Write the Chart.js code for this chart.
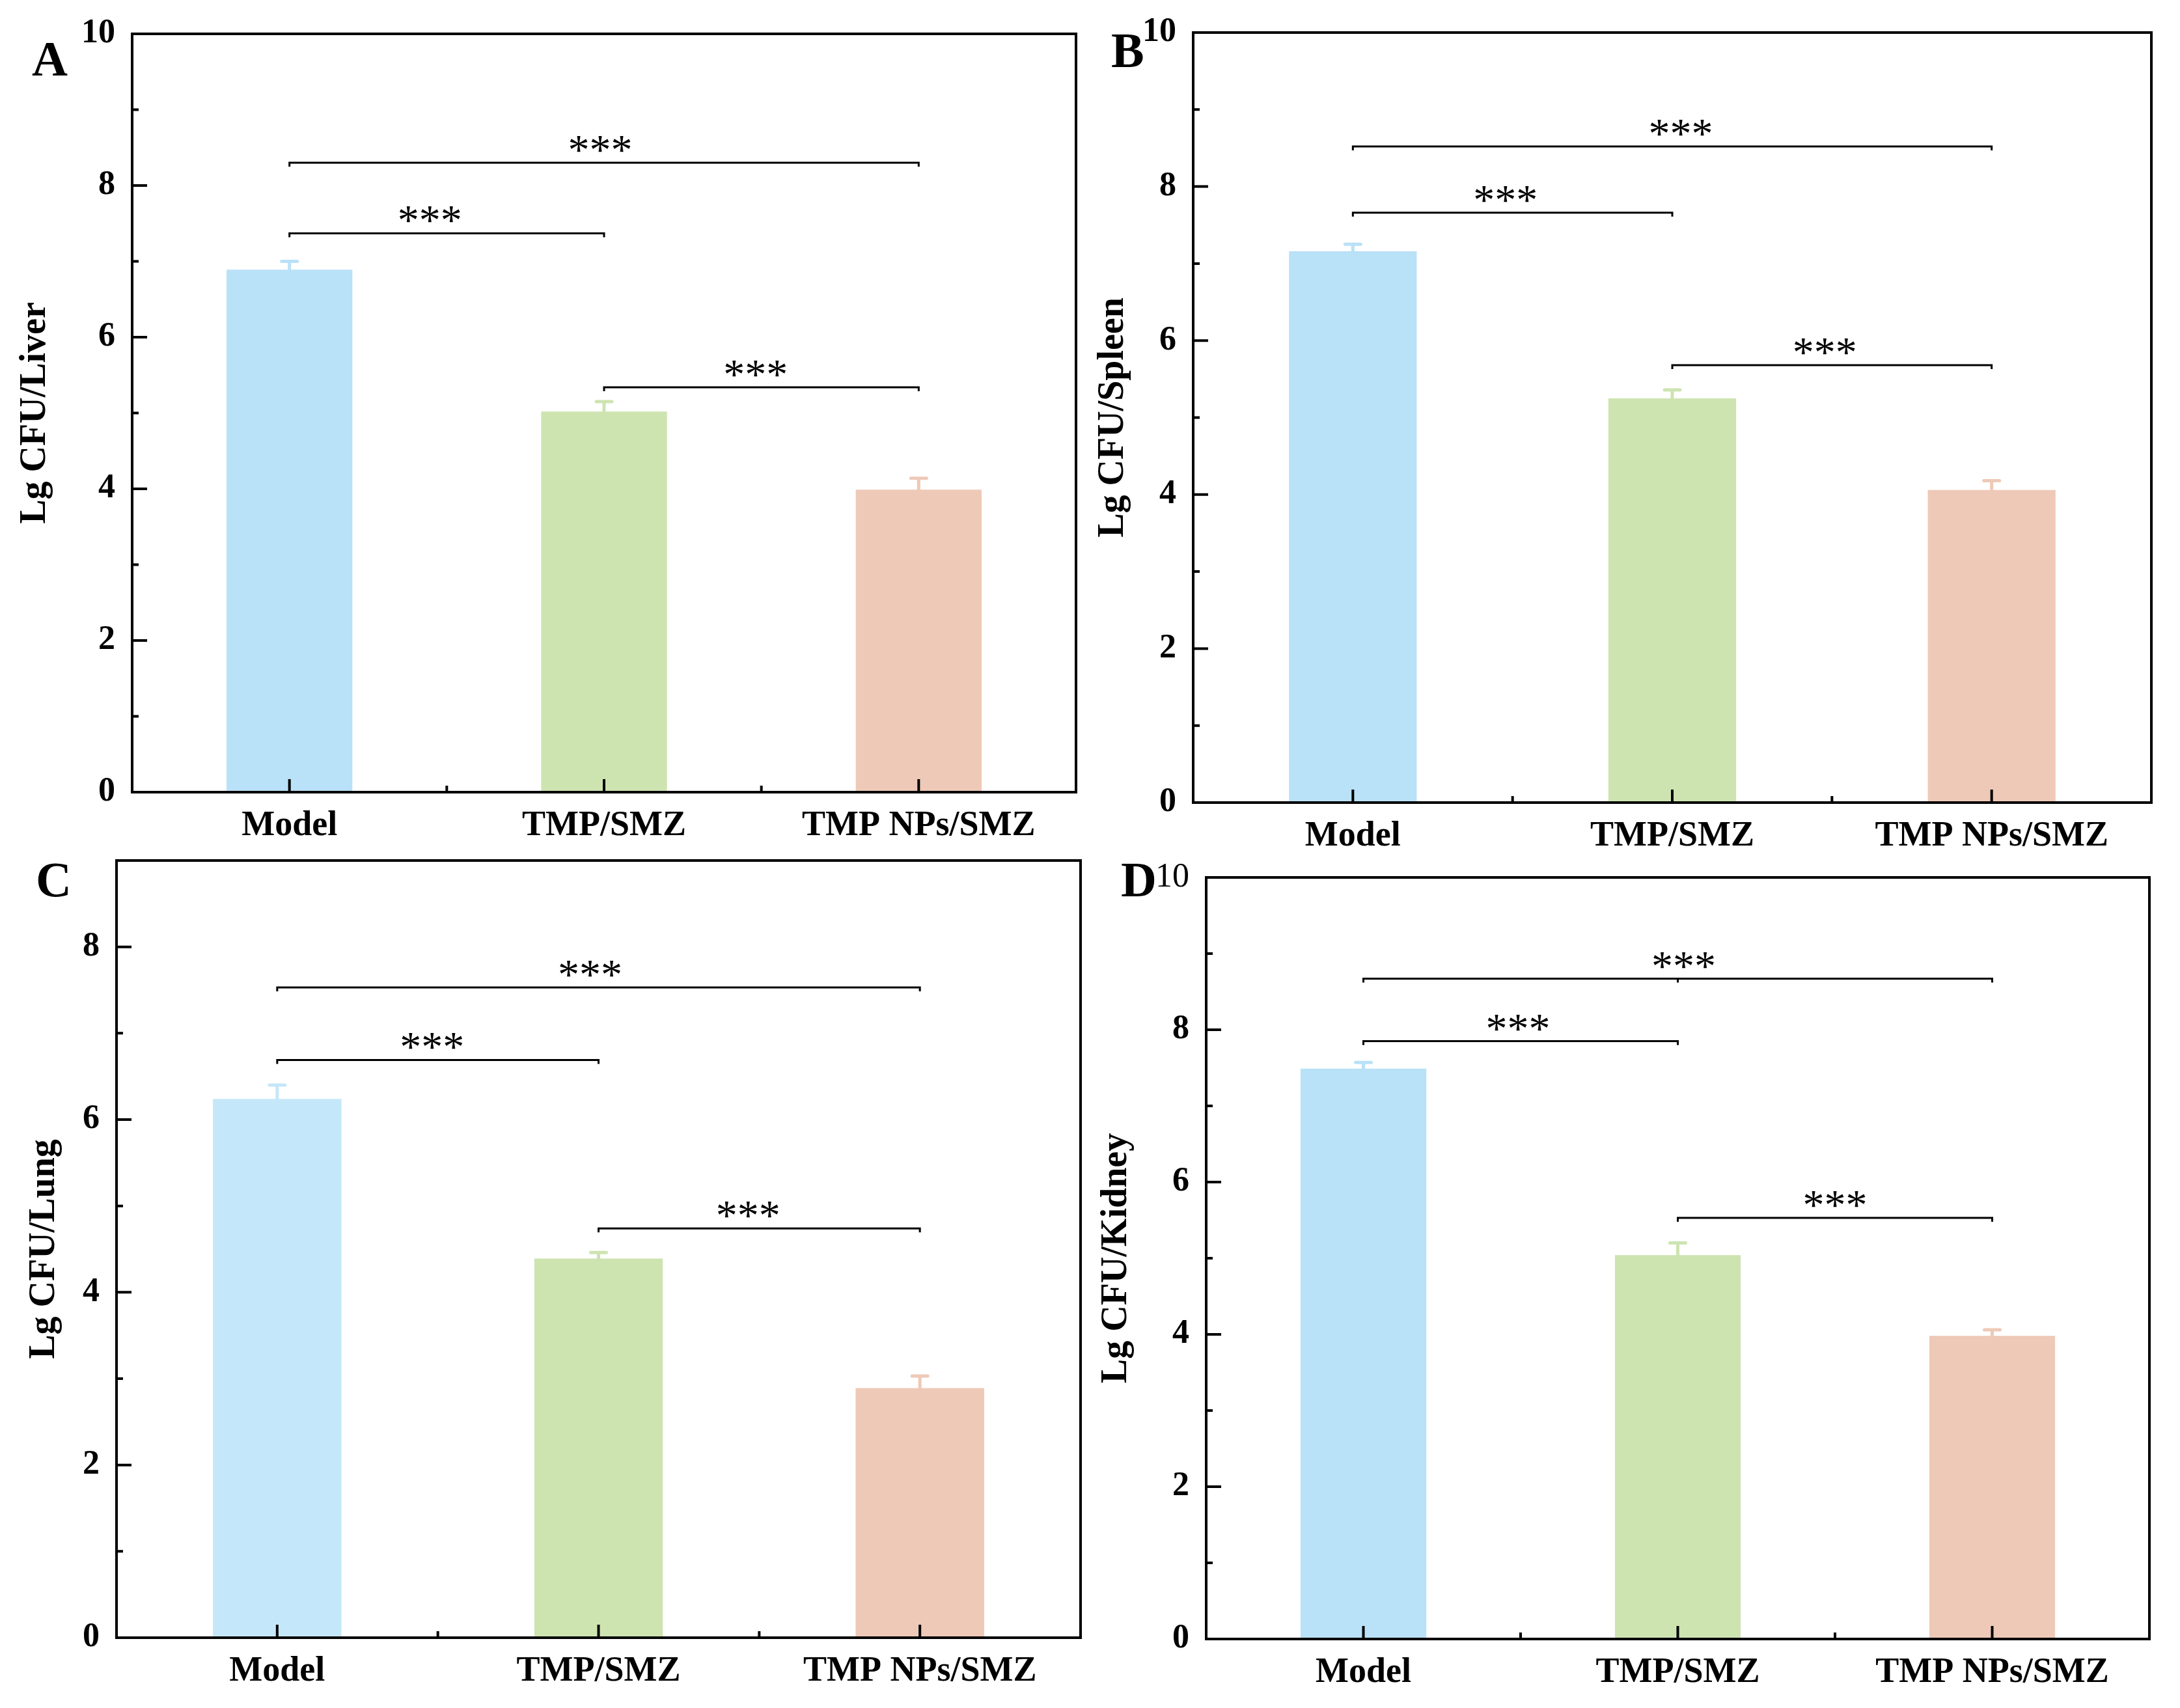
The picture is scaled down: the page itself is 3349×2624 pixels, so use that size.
<!DOCTYPE html>
<html>
<head>
<meta charset="utf-8">
<script src="https://cdn.jsdelivr.net/npm/chart.js@4.4.1/dist/chart.umd.min.js"></script>
<style>
  html, body { margin: 0; padding: 0; background: #fff; }
  body { width: 3349px; height: 2624px; position: relative; overflow: hidden; }
  canvas { position: absolute; }
</style>
</head>
<body>
<canvas id="chartA"></canvas>
<canvas id="chartB"></canvas>
<canvas id="chartC"></canvas>
<canvas id="chartD"></canvas>
<script>
// data
const categories = ['Model', 'TMP/SMZ', 'TMP NPs/SMZ'];

const liverMean = [6.89, 5.02, 3.99];
const liverSd = [0.11, 0.13, 0.15];
const spleenMean = [7.16, 5.25, 4.06];
const spleenSd = [0.09, 0.11, 0.12];
const lungMean = [6.24, 4.39, 2.89];
const lungSd = [0.16, 0.07, 0.14];
const kidneyMean = [7.49, 5.04, 3.98];
const kidneySd = [0.08, 0.16, 0.08];

// significance brackets: which groups, and at what height
const bracketPairs = [[0, 2], [0, 1], [1, 2]];
const liverBracketY = [8.30, 7.37, 5.34];
const spleenBracketY = [8.52, 7.66, 5.68];
const lungBracketY = [7.53, 6.69, 4.74];
const kidneyBracketY = [8.67, 7.85, 5.53];
const stars = '***';

const yTicks10 = [0, 2, 4, 6, 8, 10];
const yTicks9 = [0, 2, 4, 6, 8];

const FONT = '"Times New Roman", "Liberation Serif", serif';
const barColors = ['#B9E1F7', '#CDE4B1', '#EEC9B7'];
const barColorsC = ['#C5E7FA', '#CDE4B1', '#EEC9B7'];

// padTop is what chart.js reserves above the plot for the top tick label
const PAD_TOP = 60;

const panels = [
  { id: 'chartA', letter: 'A', title: 'Lg CFU/Liver', mean: liverMean, sd: liverSd, brackets: liverBracketY,
    ticks: yTicks10, yMax: 10, colors: barColors, starDx: [-6, -26, -9],
    box: { left: 21, top: -8, width: 1644, height: 1325 }, yWidth: 182, letterAt: [-154, 64] },
  { id: 'chartB', letter: 'B', title: 'Lg CFU/Spleen', mean: spleenMean, sd: spleenSd, brackets: spleenBracketY,
    ticks: yTicks10, yMax: 10, colors: barColors, starDx: [13, -11, -11],
    box: { left: 1677, top: -10, width: 1640, height: 1343 }, yWidth: 156, letterAt: [-126, 53] },
  { id: 'chartC', letter: 'C', title: 'Lg CFU/Lung', mean: lungMean, sd: lungSd, brackets: lungBracketY,
    ticks: yTicks9, yMax: 9, colors: barColorsC, starDx: [-13, -9, -17],
    box: { left: 35, top: 1262, width: 1637, height: 1354 }, yWidth: 144, letterAt: [-124, 55] },
  { id: 'chartD', letter: 'D', title: 'Lg CFU/Kidney', mean: kidneyMean, sd: kidneySd, brackets: kidneyBracketY,
    ticks: yTicks10, yMax: 10, colors: barColors, starDx: [9, -4, 0], thinTop: true, midTick: true,
    box: { left: 1682, top: 1288, width: 1632, height: 1330 }, yWidth: 171, letterAt: [-131, 29] }
];

function makeDecor(panel) {
  return {
    id: 'decor',
    afterDatasetsDraw(chart) {
      const { ctx, chartArea: area, scales: { x, y } } = chart;
      ctx.save();
      // error bars (upper half only, same colour as the bar)
      ctx.lineWidth = 5;
      ctx.lineCap = 'round';
      panel.mean.forEach((m, i) => {
        const cx = x.getPixelForValue(i);
        const y0 = y.getPixelForValue(m);
        const y1 = y.getPixelForValue(m + panel.sd[i]);
        ctx.strokeStyle = panel.colors[i];
        ctx.beginPath();
        ctx.moveTo(cx, y0);
        ctx.lineTo(cx, y1);
        ctx.moveTo(cx - 12, y1);
        ctx.lineTo(cx + 12, y1);
        ctx.stroke();
      });

      // brackets + stars
      ctx.strokeStyle = '#000';
      ctx.fillStyle = '#000';
      ctx.lineWidth = 3;
      ctx.lineCap = 'butt';
      ctx.font = '66px ' + FONT;
      ctx.textAlign = 'center';
      ctx.textBaseline = 'alphabetic';
      bracketPairs.forEach(([a, b], k) => {
        const xa = x.getPixelForValue(a);
        const xb = x.getPixelForValue(b);
        const yy = y.getPixelForValue(panel.brackets[k]);
        ctx.beginPath();
        ctx.moveTo(xa, yy + 6);
        ctx.lineTo(xa, yy);
        ctx.lineTo(xb, yy);
        ctx.lineTo(xb, yy + 6);
        if (panel.midTick && b - a === 2) {
          const xm = x.getPixelForValue(1);
          ctx.moveTo(xm, yy);
          ctx.lineTo(xm, yy + 6);
        }
        ctx.stroke();
        ctx.fillText(stars, (xa + xb) / 2 + panel.starDx[k], yy + 2);
      });

      // frame
      ctx.lineWidth = 4;
      ctx.strokeRect(area.left, area.top, area.right - area.left, area.bottom - area.top);

      // inward ticks, y
      ctx.beginPath();
      for (let v = 0; v <= panel.yMax; v++) {
        const yy = y.getPixelForValue(v);
        const len = v % 2 === 0 ? 23 : 10;
        ctx.moveTo(area.left, yy);
        ctx.lineTo(area.left + len, yy);
      }
      // inward ticks, x
      for (let i = 0; i < categories.length; i++) {
        const cx = x.getPixelForValue(i);
        ctx.moveTo(cx, area.bottom);
        ctx.lineTo(cx, area.bottom - 20);
        if (i < categories.length - 1) {
          const mx = (cx + x.getPixelForValue(i + 1)) / 2;
          ctx.moveTo(mx, area.bottom);
          ctx.lineTo(mx, area.bottom - 10);
        }
      }
      ctx.stroke();

      // panel letter
      ctx.font = 'bold 76px ' + FONT;
      ctx.textAlign = 'left';
      ctx.fillText(panel.letter, area.left + panel.letterAt[0], area.top + panel.letterAt[1]);
      ctx.restore();
    }
  };
}

panels.forEach(panel => {
  const canvas = document.getElementById(panel.id);
  canvas.width = panel.box.width;
  canvas.height = panel.box.height;
  canvas.style.left = panel.box.left + 'px';
  canvas.style.top = panel.box.top + 'px';

  new Chart(canvas, {
    type: 'bar',
    data: {
      labels: categories,
      datasets: [{
        data: panel.mean,
        backgroundColor: panel.colors,
        borderWidth: 0,
        barPercentage: 0.4,
        categoryPercentage: 1.0
      }]
    },
    options: {
      responsive: false,
      animation: false,
      devicePixelRatio: 1,
      layout: { padding: { top: PAD_TOP, right: 12, left: 0, bottom: 0 } },
      plugins: { legend: { display: false }, tooltip: { enabled: false } },
      scales: {
        x: {
          offset: true,
          grid: { display: false, drawTicks: false },
          border: { display: false },
          ticks: {
            color: '#000',
            font: { family: FONT, size: 54, weight: 'bold' },
            padding: 20,
            maxRotation: 0,
            autoSkip: false
          },
          afterFit: s => { s.height = 100; }
        },
        y: {
          min: 0,
          max: panel.yMax,
          grid: { display: false, drawTicks: false },
          border: { display: false },
          afterBuildTicks: s => { s.ticks = panel.ticks.map(v => ({ value: v })); },
          ticks: {
            color: '#000',
            padding: 26,
            font: c => ({
              family: FONT,
              size: 52,
              weight: (panel.thinTop && c.tick && c.tick.value === 10) ? 'normal' : 'bold'
            })
          },
          title: {
            display: true,
            text: panel.title,
            color: '#000',
            font: { family: FONT, size: 56, weight: 'bold' },
            padding: 0
          },
          afterFit: s => { s.width = panel.yWidth; }
        }
      }
    },
    plugins: [makeDecor(panel)]
  });
});
</script>
</body>
</html>
